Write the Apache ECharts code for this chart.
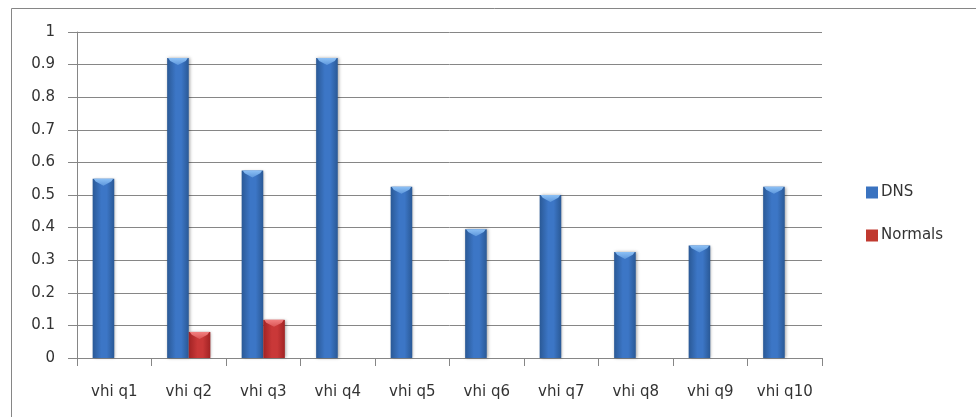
<!DOCTYPE html>
<html>
<head>
<meta charset="utf-8">
<script src="https://cdn.jsdelivr.net/npm/echarts@6/dist/echarts.min.js"></script>
<style>
  html, body { margin: 0; padding: 0; background: #fff; }
  #chart { width: 976px; height: 417px; }
</style>
</head>
<body>
<div id="chart"></div>
<script>
// Category labels and series values
const categories = ['vhi q1', 'vhi q2', 'vhi q3', 'vhi q4', 'vhi q5', 'vhi q6', 'vhi q7', 'vhi q8', 'vhi q9', 'vhi q10'];
const dnsValues = [0.55, 0.92, 0.575, 0.92, 0.525, 0.395, 0.5, 0.325, 0.345, 0.525];
const normalsValues = [0, 0.08, 0.117, 0, 0, 0, 0, 0, 0, 0];
const yTicks = { min: 0, max: 1, interval: 0.1 };

const FONT = 'DejaVu Sans';
const TEXT = '#333333';
const LINE = '#868686';

function hGrad(edge, mid) {
  return new echarts.graphic.LinearGradient(0, 0, 1, 0, [
    { offset: 0, color: edge },
    { offset: 0.4, color: mid },
    { offset: 0.65, color: mid },
    { offset: 1, color: edge }
  ]);
}

const palettes = {
  DNS: { body: hGrad('#2a5996', '#3c76c6'), cap: '#8cc0f5', capEdge: '#5d97dc', legend: '#3a73c0' },
  Normals: { body: hGrad('#a12324', '#c93838'), cap: '#f28080', capEdge: '#da5555', legend: '#c0392f' }
};

// Bevelled column: gradient body plus a light downward cap on top
function makeRenderer(side, pal) {
  return function (params, api) {
    const idx = api.value(0);
    const v = api.value(1);
    if (!v) return null;
    const base = api.coord([idx, 0]);
    const top = api.coord([idx, v]);
    const band = api.size([1, 0])[0];
    const w = band * 0.29;
    const x = side === 'left' ? base[0] - w : base[0];
    const t = top[1];
    const h = base[1] - t;
    const capH = Math.min(7, h);
    return {
      type: 'group',
      children: [
        {
          type: 'rect',
          shape: { x: x, y: t, width: w, height: h },
          style: {
            fill: pal.body,
            shadowBlur: 3,
            shadowColor: 'rgba(0,0,0,0.35)',
            shadowOffsetX: 1,
            shadowOffsetY: 0
          }
        },
        {
          type: 'polygon',
          shape: {
            points: [
              [x + 1, t], [x + w - 1, t], [x + w - 3, t + capH * 0.4],
              [x + w / 2, t + capH], [x + 3, t + capH * 0.4]
            ]
          },
          style: {
            fill: new echarts.graphic.LinearGradient(0, 0, 0, 1, [
              { offset: 0, color: pal.cap },
              { offset: 1, color: pal.capEdge }
            ])
          }
        }
      ]
    };
  };
}

const chart = echarts.init(document.getElementById('chart'), null, { renderer: 'canvas' });

chart.setOption({
  animation: false,
  backgroundColor: '#ffffff',
  graphic: [
    {
      type: 'rect',
      left: 9, top: 6,
      shape: { width: 1000, height: 500 },
      style: { fill: 'none', stroke: LINE, lineWidth: 1 },
      z: -1
    }
  ],
  grid: { left: 77, right: 154, top: 32, bottom: 59 },
  legend: {
    orient: 'vertical',
    left: 861,
    top: 180,
    itemWidth: 12,
    itemHeight: 12,
    itemGap: 28,
    icon: 'rect',
    textStyle: { fontFamily: FONT, fontSize: 15, color: TEXT, padding: [0, 0, 0, -2] },
    data: [
      { name: 'DNS', itemStyle: { color: palettes.DNS.legend } },
      { name: 'Normals', itemStyle: { color: palettes.Normals.legend } }
    ]
  },
  xAxis: {
    type: 'category',
    data: categories,
    axisLine: { lineStyle: { color: LINE } },
    axisTick: { show: true, length: 8, alignWithLabel: false, lineStyle: { color: LINE } },
    axisLabel: { fontFamily: FONT, fontSize: 15, color: TEXT, margin: 27, interval: 0 },
    splitLine: { show: false }
  },
  yAxis: {
    type: 'value',
    min: yTicks.min,
    max: yTicks.max,
    interval: yTicks.interval,
    axisLine: { show: true, lineStyle: { color: LINE } },
    axisTick: { show: true, length: 9, lineStyle: { color: LINE } },
    axisLabel: { fontFamily: FONT, fontSize: 15, color: TEXT, margin: 22 },
    splitLine: { show: true, lineStyle: { color: LINE, width: 1 } }
  },
  series: [
    {
      name: 'DNS',
      type: 'custom',
      itemStyle: { color: palettes.DNS.legend },
      renderItem: makeRenderer('left', palettes.DNS),
      encode: { x: 0, y: 1 },
      data: dnsValues.map((v, i) => [i, v])
    },
    {
      name: 'Normals',
      type: 'custom',
      itemStyle: { color: palettes.Normals.legend },
      renderItem: makeRenderer('right', palettes.Normals),
      encode: { x: 0, y: 1 },
      data: normalsValues.map((v, i) => [i, v])
    }
  ]
});
</script>
</body>
</html>
